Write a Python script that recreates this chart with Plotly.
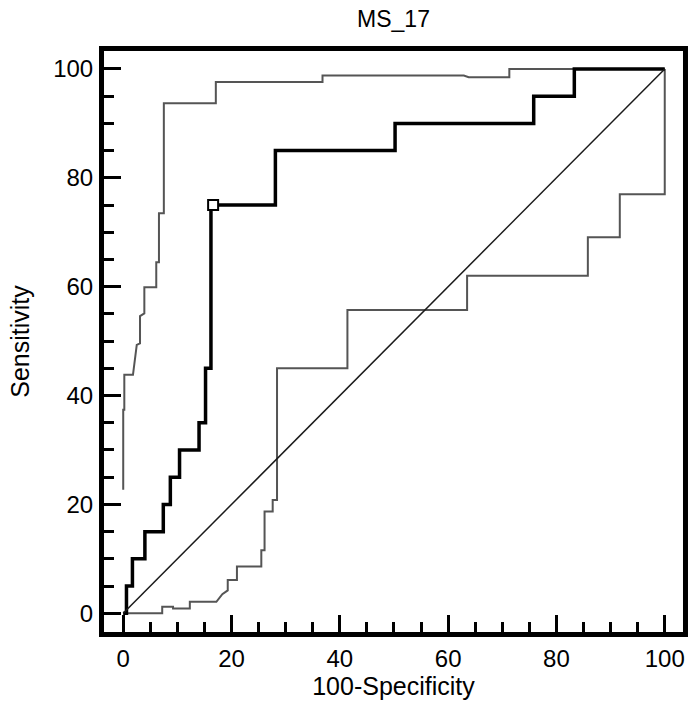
import plotly.graph_objects as go

# ROC curve (thick)
roc_x = [0, 0.6, 0.6, 1.7, 1.7, 4.0, 4.0, 7.4, 7.4, 8.7, 8.7, 10.4, 10.4, 14.0, 14.0, 15.2, 15.2,
         16.2, 16.2, 28.1, 28.1, 50.2, 50.2, 75.8, 75.8, 83.3, 83.3, 100]
roc_y = [0, 0, 5, 5, 10, 10, 15, 15, 20, 20, 25, 25, 30, 30, 35, 35, 45,
         45, 75, 75, 85, 85, 90, 90, 95, 95, 100, 100]

# Upper confidence bound
up_x = [0, 0, 0.2, 0.2, 1.8, 2.5, 3.1, 3.1, 3.9, 3.9, 6.1, 6.1, 6.6, 6.6, 7.5, 7.5, 17.1, 17.1,
        36.8, 36.8, 62.9, 63.8, 71.3, 71.3, 100]
up_y = [22.7, 37.4, 37.4, 43.8, 43.8, 49.3, 49.6, 54.6, 55.1, 59.9, 59.9, 64.5, 64.5, 73.5, 73.5, 93.7, 93.7, 97.6,
        97.6, 98.8, 98.8, 98.5, 98.5, 100, 100]

# Lower confidence bound
lo_x = [0, 7.2, 7.2, 9.2, 9.2, 12.3, 12.3, 17.2, 18.3, 19.3, 19.3, 21.0, 21.0, 25.5, 25.5, 26.1, 26.1,
        27.6, 27.6, 28.4, 28.4, 41.4, 41.4, 63.5, 63.5, 85.8, 85.8, 91.7, 91.7, 100, 100]
lo_y = [0, 0, 1.2, 1.2, 0.9, 0.9, 2.1, 2.1, 3.5, 4.2, 6.1, 6.1, 8.6, 8.6, 11.6, 11.6, 18.7,
        18.7, 20.8, 20.8, 45, 45, 55.7, 55.7, 62, 62, 69.1, 69.1, 77, 77, 100]

# Reference diagonal
diag_x = [0, 100]
diag_y = [0, 100]

# Optimal cut-off point
cut_x = [16.6]
cut_y = [75]

FONT = "Liberation Sans, Arial, sans-serif"
X_RANGE = [-3.55, 103.37]
Y_RANGE = [-3.44, 103.3]

fig = go.Figure()
fig.add_trace(go.Scatter(x=up_x, y=up_y, mode="lines",
                         line=dict(color="#555555", width=2)))
fig.add_trace(go.Scatter(x=lo_x, y=lo_y, mode="lines",
                         line=dict(color="#555555", width=2)))
fig.add_trace(go.Scatter(x=roc_x, y=roc_y, mode="lines",
                         line=dict(color="#000000", width=3.5)))
fig.add_trace(go.Scatter(x=cut_x, y=cut_y, mode="markers",
                         marker=dict(symbol="square", size=10, color="white",
                                     line=dict(color="black", width=2))))
# diagonal drawn on the overlay axes (same ranges) so those axes are rendered
fig.add_trace(go.Scatter(x=diag_x, y=diag_y, mode="lines", xaxis="x3", yaxis="y3",
                         line=dict(color="#1a1a1a", width=1.5), hoverinfo="skip"))

# main axes: labels every 20, short inside minor ticks every 5
main_axis = dict(
    showgrid=False, zeroline=False,
    showline=True, linecolor="black", linewidth=5, mirror=False,
    ticks="outside", ticklen=1, tickwidth=1, tickcolor="white",
    tickmode="linear", tick0=0, dtick=20,
    tickfont=dict(family=FONT, size=24, color="black"),
    minor=dict(tickmode="linear", dtick=5, tick0=0, ticks="inside", ticklen=10,
               tickwidth=2.5, tickcolor="black"),
)
# overlay axes: long inside ticks every 20
major_axis = dict(
    showgrid=False, zeroline=False, showline=False,
    showticklabels=False, ticks="outside", ticklen=1, tickwidth=1, tickcolor="white",
    tickmode="linear", tick0=-3, dtick=200,
    minor=dict(tickmode="linear", tick0=0, dtick=20, ticks="inside", ticklen=17,
               tickwidth=2.5, tickcolor="black"),
)

pad = 2.5 / 581
fig.update_layout(
    width=688, height=703,
    margin=dict(l=104, r=3, t=51, b=71),
    paper_bgcolor="white", plot_bgcolor="white",
    showlegend=False,
    title=dict(text="MS_17", x=0.5, xref="paper", y=1 - 19 / 703, yref="container",
               xanchor="center", yanchor="middle",
               font=dict(family=FONT, size=23, color="black")),
    xaxis=dict(range=X_RANGE, **main_axis,
               title=dict(text="100-Specificity", standoff=7,
                          font=dict(family=FONT, size=25, color="black"))),
    yaxis=dict(range=Y_RANGE, **main_axis,
               title=dict(text="Sensitivity", standoff=18,
                          font=dict(family=FONT, size=25, color="black"))),
    xaxis3=dict(range=X_RANGE, overlaying="x", anchor="y3", side="bottom", **major_axis),
    yaxis3=dict(range=Y_RANGE, overlaying="y", anchor="x3", side="left", **major_axis),
    shapes=[dict(type="rect", xref="paper", yref="paper",
                 x0=-pad, x1=1 + pad, y0=-pad, y1=1 + pad,
                 line=dict(color="black", width=5), fillcolor="rgba(0,0,0,0)",
                 layer="above")],
)

fig.write_html("out.html", config={"displayModeBar": False},
               post_script="document.body.style.margin='0';document.body.style.overflow='hidden';")
